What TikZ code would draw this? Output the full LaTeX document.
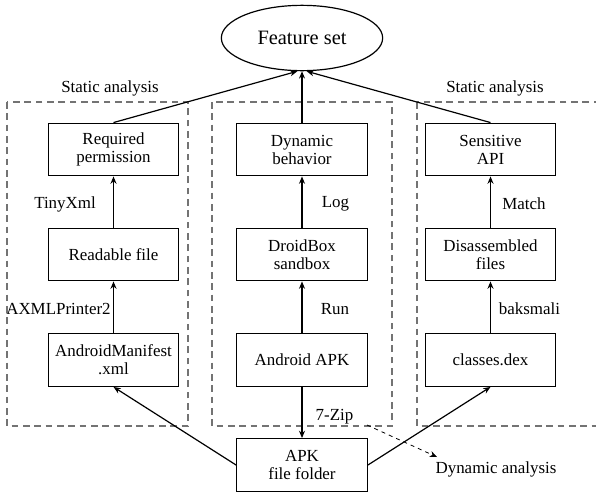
\documentclass[tikz,border=0pt]{standalone}
\usepackage{fontspec}
\setmainfont{Liberation Serif}
\newfontfamily\figfont{Liberation Serif}
\usetikzlibrary{arrows.meta,shapes.geometric}

\tikzset{
	box/.style={draw, minimum width=98pt, minimum height=39.5pt, align=center, inner sep=2pt, font=\figfont\fontsize{12.7pt}{13.5pt}\selectfont},
	lbl/.style={font=\figfont\fontsize{12.7pt}{13.5pt}\selectfont},
	zone/.style={draw={rgb, 255:red, 115; green, 115; blue, 115 }, dash pattern=on 5pt off 3.5pt, line width=0.9pt},
	arr/.style={-{Stealth[length=5.5pt,width=4.5pt]}}}
\tikzset{every picture/.style={line width=0.9pt}}

\begin{document}
\begin{tikzpicture}[x=0.75pt,y=0.75pt,yscale=-1,xscale=1]
	\useasboundingbox (0,0) rectangle (596,493);

	%Shape: Rectangle [id:zone_left] 
	\draw [zone] (7,102) rectangle (188,426);
	%Shape: Rectangle [id:zone_mid] 
	\draw [zone] (212,102) rectangle (392,426);
	%Shape: Rectangle [id:zone_right] 
	\draw [zone] (417,102) rectangle (604,426);

	%Shape: Ellipse [id:fs] 
	\node (fs) at (302,38) [draw, ellipse, minimum width=121pt, minimum height=49pt, font=\figfont\fontsize{15.3pt}{17pt}\selectfont] {Feature set};

	%Shape: Rectangle [id:left column] 
	\node (rp) at (113.5,149.5) [box] {Required\\permission};
	\node (rf) at (113.5,254.5) [box] {Readable file};
	\node (am) at (113.5,360) [box] {AndroidManifest\\.xml};
	%Shape: Rectangle [id:middle column] 
	\node (db) at (302,149.5) [box] {Dynamic\\behavior};
	\node (ds) at (302,254.5) [box] {DroidBox\\sandbox};
	\node (aa) at (302,360) [box] {Android APK};
	%Shape: Rectangle [id:right column] 
	\node (sa) at (490.5,149.5) [box] {Sensitive\\API};
	\node (df) at (490.5,254.5) [box] {Disassembled\\files};
	\node (cd) at (490.5,360) [box] {classes.dex};
	%Shape: Rectangle [id:apk] 
	\node (af) at (302,465) [box] {APK\\file folder};

	% Text Node
	\node (sl) at (110,88) [lbl] {Static analysis};
	% Text Node
	\node (sr) at (495,88) [lbl] {Static analysis};
	% Text Node
	\node (tx) at (65,204) [lbl] {TinyXml};
	% Text Node
	\node (ax) at (58.5,309) [lbl] {AXMLPrinter2};
	% Text Node
	\node (lg) at (335.5,204) [lbl] {Log};
	% Text Node
	\node (rn) at (335,309) [lbl] {Run};
	% Text Node
	\node (mt) at (524,204) [lbl] {Match};
	% Text Node
	\node (bk) at (529.5,309) [lbl] {baksmali};
	% Text Node
	\node (zp) at (334.5,417) [lbl] {7-Zip};
	% Text Node
	\node (dy) at (496,469) [lbl] {Dynamic analysis};

	%Straight Lines [id:up arrows] 
	\draw [arr] (am) -- (rf);
	\draw [arr] (rf) -- (rp);
	\draw [arr] (aa) -- (ds);
	\draw [arr] (ds) -- (db);
	\draw [arr] (cd) -- (df);
	\draw [arr] (df) -- (sa);
	%Straight Lines [id:to feature set] 
	\draw [arr] (rp.north) -- ([xshift=-3.5pt]fs.south);
	\draw [arr] (db.north) -- (fs.south);
	\draw [arr] (sa.north) -- ([xshift=3.5pt]fs.south);
	%Straight Lines [id:from apk] 
	\draw [arr] (aa) -- (af);
	\draw [arr] (af.west) -- (am.south);
	\draw [arr] (af.east) -- (cd.south);
	%Straight Lines [id:dynamic] 
	\coordinate (d1) at (367,425);
	\coordinate (d2) at (437,457);
	\draw [arr, dashed, line width=0.6pt] (d1) -- (d2);

\end{tikzpicture}
\end{document}
